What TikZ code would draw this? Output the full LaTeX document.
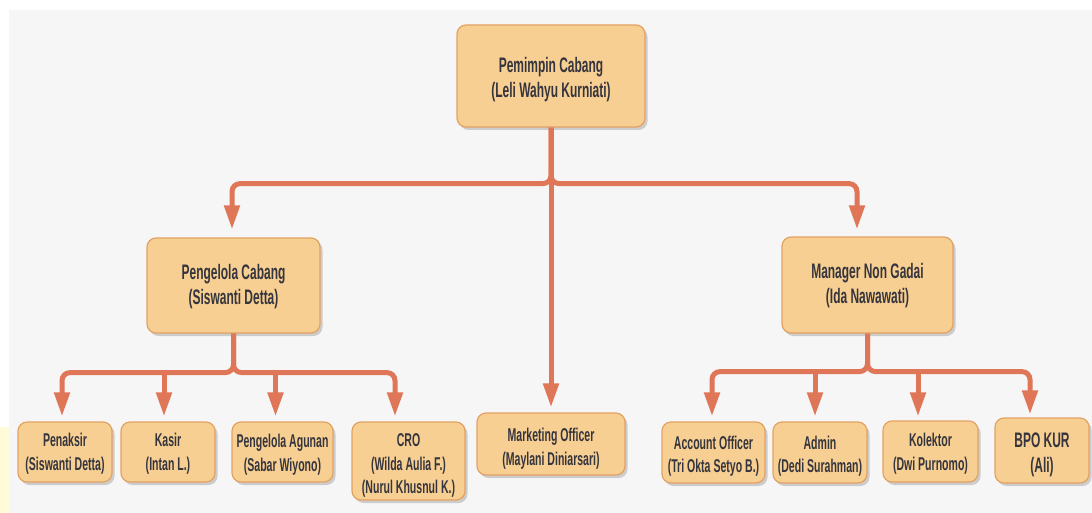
\documentclass[tikz,border=0pt]{standalone}
\usepackage{fontspec}
\newfontfamily\boxfont{Liberation Sans}[FakeStretch=0.57]
\usetikzlibrary{arrows.meta,shadows}
\definecolor{boxfill}{HTML}{F8CF92}
\definecolor{boxline}{HTML}{E3A262}
\definecolor{connc}{HTML}{E07658}
\definecolor{txt}{HTML}{35353D}
\definecolor{bgc}{HTML}{F6F6F6}
\definecolor{edgey}{HTML}{FDFBD8}
\newcommand\bxt[2][3.5pt]{\raisebox{-#1}[\height][\depth]{\begin{tabular}{@{}c@{}}#2\end{tabular}}}
\tikzset{
  orgbox/.style={draw=boxline, line width=1.2pt, fill=boxfill, rounded corners=9pt,
    text=txt, inner sep=0pt,
    drop shadow={shadow xshift=2.5pt, shadow yshift=-3pt, fill=black!40, opacity=0.45}},
  bigtxt/.style={font=\boxfont\bfseries\fontsize{21}{25}\selectfont},
  smalltxt/.style={font=\boxfont\bfseries\fontsize{18.5}{23.5}\selectfont},
  connline/.style={draw=connc, line width=5pt, rounded corners=8pt},
  arr/.style={-{Triangle[length=24pt,width=15pt]}}
}
\begin{document}
\begin{tikzpicture}[x=1pt,y=-1pt]
\useasboundingbox (0,0) rectangle (1092,513);
\fill[white] (0,0) rectangle (1092,513);
\fill[bgc] (9,10) rectangle (1092,513);
\fill[edgey] (0,427) rectangle (9,513);

% top
\node[orgbox,bigtxt,minimum width=188pt,minimum height=102pt] (top) at (551,76) {\bxt[4pt]{Pemimpin Cabang\\(Leli Wahyu Kurniati)}};
% second level
\node[orgbox,bigtxt,minimum width=173pt,minimum height=95pt] (pc) at (233.5,285.5) {\bxt[1pt]{Pengelola Cabang\\(Siswanti Detta)}};
\node[orgbox,bigtxt,minimum width=171pt,minimum height=96pt] (mng) at (867.5,285) {\bxt[1pt]{Manager Non Gadai\\(Ida Nawawati)}};
% bottom row
\node[orgbox,smalltxt,minimum width=94pt,minimum height=60pt] (pen) at (65,452) {\bxt[2pt]{Penaksir\\(Siswanti Detta)}};
\node[orgbox,smalltxt,minimum width=94pt,minimum height=60pt] (kas) at (168,452) {\bxt[2pt]{Kasir\\(Intan L.)}};
\node[orgbox,smalltxt,minimum width=101pt,minimum height=60pt] (agu) at (282.5,452) {\bxt[3pt]{Pengelola Agunan\\(Sabar Wiyono)}};
\node[orgbox,smalltxt,minimum width=113pt,minimum height=78pt] (cro) at (408.5,461) {\bxt[4.5pt]{CRO\\(Wilda Aulia F.)\\(Nurul Khusnul K.)}};
\node[orgbox,smalltxt,minimum width=148pt,minimum height=62pt] (mo) at (551,444) {\bxt[5pt]{Marketing Officer\\(Maylani Diniarsari)}};
\node[orgbox,smalltxt,minimum width=103pt,minimum height=61pt] (ao) at (713.5,452.5) {\bxt[4pt]{Account Officer\\(Tri Okta Setyo B.)}};
\node[orgbox,smalltxt,minimum width=94pt,minimum height=61pt] (adm) at (820,452.5) {\bxt[4pt]{Admin\\(Dedi Surahman)}};
\node[orgbox,smalltxt,minimum width=95pt,minimum height=61pt] (kol) at (930.5,451.5) {\bxt[2.5pt]{Kolektor\\(Dwi Purnomo)}};
\node[orgbox,bigtxt,minimum width=94pt,minimum height=65pt] (bpo) at (1042,450.5) {\bxt[4pt]{BPO KUR\\(Ali)}};

% connectors level 1
\path (top.south) ++(0,56) coordinate (tbar);
\draw[connline,arr] (top.south) -- (tbar) -| ([xshift=-1.5pt,yshift=8pt]pc.north);
\draw[connline,arr] (top.south) -- (tbar) -| ([xshift=-10.5pt,yshift=7pt]mng.north);
\draw[connline,arr] (top.south) -- ([yshift=5pt]mo.north);

% left group
\path (pc.south) ++(0,39) coordinate (lbar);
\draw[connline,arr] (pc.south) -- (lbar) -| ([xshift=-3pt,yshift=5pt]pen.north);
\draw[connline,arr] (pc.south) -- (lbar) -| ([xshift=-13.5pt,yshift=5pt]cro.north);
\draw[connline,arr] ([xshift=-4pt]kas.north |- lbar) -- ([xshift=-4pt,yshift=5pt]kas.north);
\draw[connline,arr] ([xshift=-7pt]agu.north |- lbar) -- ([xshift=-7pt,yshift=5pt]agu.north);

% right group
\path (mng.south) ++(0,38) coordinate (rbar);
\draw[connline,arr] (mng.south) -- (rbar) -| ([xshift=-1.5pt,yshift=5pt]ao.north);
\draw[connline,arr] (mng.south) -- (rbar) -| ([xshift=-12pt,yshift=3pt]bpo.north);
\draw[connline,arr] ([xshift=-5pt]adm.north |- rbar) -- ([xshift=-5pt,yshift=5pt]adm.north);
\draw[connline,arr] ([xshift=-12.5pt]kol.north |- rbar) -- ([xshift=-12.5pt,yshift=4pt]kol.north);
\end{tikzpicture}
\end{document}
